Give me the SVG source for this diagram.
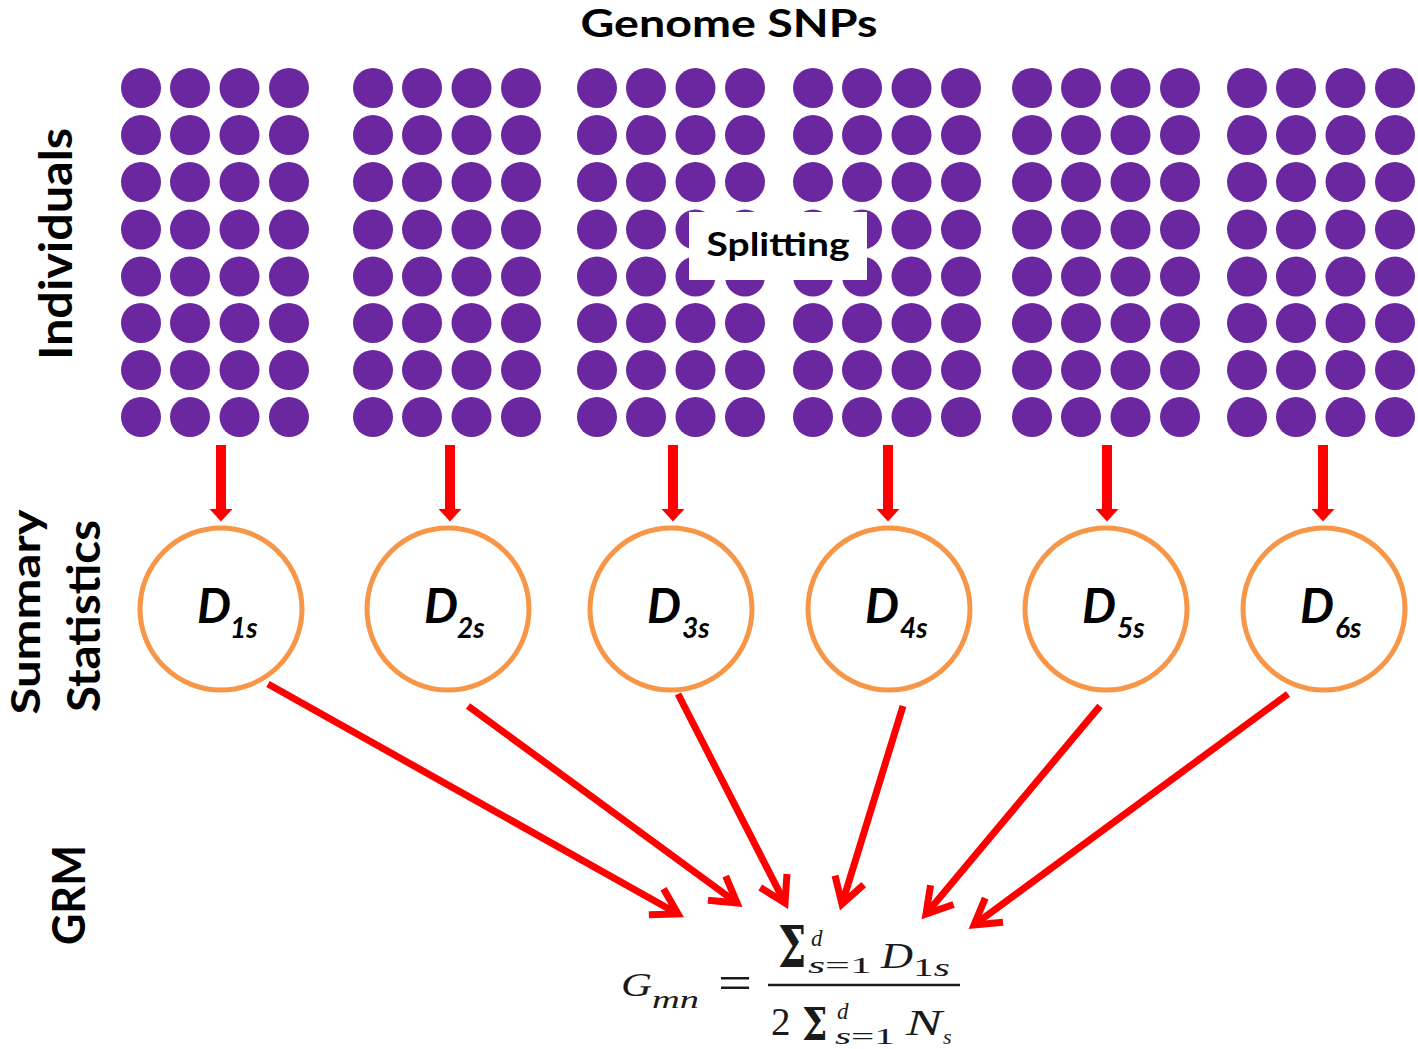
<svg xmlns="http://www.w3.org/2000/svg" xmlns:xlink="http://www.w3.org/1999/xlink" width="1418" height="1049" viewBox="0 0 1418 1049">
<style>
.lbl{font-family:Lato,"Liberation Sans",sans-serif;font-weight:bold;fill:#000}
.dot{fill:#6a27a0}
.node{fill:#fff;stroke:#f79646;stroke-width:5}
.dl{font-family:Lato,"Liberation Sans",sans-serif;font-weight:bold;font-style:italic;fill:#000}
.vline{stroke:#ff0000;stroke-width:10;fill:none}
.dline{stroke:#ff0000;stroke-width:7;fill:none}
.m{font-family:"Liberation Serif","Times New Roman",serif;fill:#1a1a1a}
.mi{font-family:"Liberation Serif","Times New Roman",serif;font-style:italic;fill:#1a1a1a}
.sig{font-family:"DejaVu Serif","Liberation Serif",serif;font-weight:bold;fill:#1a1a1a}
</style>
<defs>
<g id="block">
<circle class="dot" cx="0" cy="0" r="20"/><circle class="dot" cx="49" cy="0" r="20"/><circle class="dot" cx="98.5" cy="0" r="20"/><circle class="dot" cx="148" cy="0" r="20"/>
<circle class="dot" cx="0" cy="47" r="20"/><circle class="dot" cx="49" cy="47" r="20"/><circle class="dot" cx="98.5" cy="47" r="20"/><circle class="dot" cx="148" cy="47" r="20"/>
<circle class="dot" cx="0" cy="94" r="20"/><circle class="dot" cx="49" cy="94" r="20"/><circle class="dot" cx="98.5" cy="94" r="20"/><circle class="dot" cx="148" cy="94" r="20"/>
<circle class="dot" cx="0" cy="141.5" r="20"/><circle class="dot" cx="49" cy="141.5" r="20"/><circle class="dot" cx="98.5" cy="141.5" r="20"/><circle class="dot" cx="148" cy="141.5" r="20"/>
<circle class="dot" cx="0" cy="188.5" r="20"/><circle class="dot" cx="49" cy="188.5" r="20"/><circle class="dot" cx="98.5" cy="188.5" r="20"/><circle class="dot" cx="148" cy="188.5" r="20"/>
<circle class="dot" cx="0" cy="235" r="20"/><circle class="dot" cx="49" cy="235" r="20"/><circle class="dot" cx="98.5" cy="235" r="20"/><circle class="dot" cx="148" cy="235" r="20"/>
<circle class="dot" cx="0" cy="282" r="20"/><circle class="dot" cx="49" cy="282" r="20"/><circle class="dot" cx="98.5" cy="282" r="20"/><circle class="dot" cx="148" cy="282" r="20"/>
<circle class="dot" cx="0" cy="329" r="20"/><circle class="dot" cx="49" cy="329" r="20"/><circle class="dot" cx="98.5" cy="329" r="20"/><circle class="dot" cx="148" cy="329" r="20"/>
</g>
<marker id="solid" markerUnits="userSpaceOnUse" markerWidth="30" markerHeight="30" viewBox="0 -15 30 30" refX="0" refY="0" orient="auto" overflow="visible">
<path d="M0,-11.5 L12.5,0 L0,11.5 Z" fill="#ff0000"/>
</marker>
<marker id="open" markerUnits="userSpaceOnUse" markerWidth="40" markerHeight="40" viewBox="-30 -20 40 40" refX="0" refY="0" orient="auto" overflow="visible">
<path d="M-25,-15 L0,0 L-25,15" fill="none" stroke="#ff0000" stroke-width="7" stroke-linejoin="miter" stroke-linecap="butt"/>
</marker>
</defs>
<rect width="1418" height="1049" fill="#fff"/>

<text class="lbl" x="729" y="37" font-size="38" text-anchor="middle" textLength="297" lengthAdjust="spacingAndGlyphs">Genome SNPs</text>
<text class="lbl" font-size="46" text-anchor="middle" transform="translate(72,244) rotate(-90)" textLength="232" lengthAdjust="spacingAndGlyphs">Individuals</text>
<text class="lbl" font-size="41" text-anchor="middle" transform="translate(40,612) rotate(-90)" textLength="205" lengthAdjust="spacingAndGlyphs">Summary</text>
<text class="lbl" font-size="46" text-anchor="middle" transform="translate(100,616) rotate(-90)" textLength="192" lengthAdjust="spacingAndGlyphs">Statistics</text>
<text class="lbl" font-size="46" text-anchor="middle" transform="translate(85,895) rotate(-90)" textLength="100" lengthAdjust="spacingAndGlyphs">GRM</text>

<g id="snp-block-1"><use xlink:href="#block" href="#block" transform="translate(141,88)"/></g>
<g id="snp-block-2"><use xlink:href="#block" href="#block" transform="translate(373,88)"/></g>
<g id="snp-block-3"><use xlink:href="#block" href="#block" transform="translate(597,88)"/></g>
<g id="snp-block-4"><use xlink:href="#block" href="#block" transform="translate(813,88)"/></g>
<g id="snp-block-5"><use xlink:href="#block" href="#block" transform="translate(1032,88)"/></g>
<g id="snp-block-6"><use xlink:href="#block" href="#block" transform="translate(1247,88)"/></g>

<g id="splitting">
<rect x="689" y="212" width="178" height="68" fill="#fff"/>
<text class="lbl" x="778" y="256" font-size="32" text-anchor="middle" textLength="143" lengthAdjust="spacingAndGlyphs">Splitting</text>
</g>

<g id="connectors">
<line class="vline" x1="221" y1="445" x2="221" y2="509" marker-end="url(#solid)"/>
<line class="vline" x1="450" y1="445" x2="450" y2="509" marker-end="url(#solid)"/>
<line class="vline" x1="673" y1="445" x2="673" y2="509" marker-end="url(#solid)"/>
<line class="vline" x1="888" y1="445" x2="888" y2="509" marker-end="url(#solid)"/>
<line class="vline" x1="1107" y1="445" x2="1107" y2="509" marker-end="url(#solid)"/>
<line class="vline" x1="1323" y1="445" x2="1323" y2="509" marker-end="url(#solid)"/>
<line class="dline" x1="268" y1="684" x2="678" y2="914" marker-end="url(#open)"/>
<line class="dline" x1="468" y1="706" x2="737" y2="903" marker-end="url(#open)"/>
<line class="dline" x1="678" y1="694" x2="785" y2="903" marker-end="url(#open)"/>
<line class="dline" x1="903" y1="706" x2="842" y2="904" marker-end="url(#open)"/>
<line class="dline" x1="1100" y1="706" x2="926" y2="914" marker-end="url(#open)"/>
<line class="dline" x1="1288" y1="694" x2="974" y2="925" marker-end="url(#open)"/>
</g>

<g id="d1"><circle class="node" cx="221" cy="609" r="81"/><text class="dl" font-size="48"><tspan x="197" y="623">D</tspan><tspan x="230" y="638" font-size="28">1s</tspan></text></g>
<g id="d2"><circle class="node" cx="448" cy="609" r="81"/><text class="dl" font-size="48"><tspan x="424" y="623">D</tspan><tspan x="457" y="638" font-size="28">2s</tspan></text></g>
<g id="d3"><circle class="node" cx="671" cy="609" r="81"/><text class="dl" font-size="48"><tspan x="647" y="623">D</tspan><tspan x="682" y="638" font-size="28">3s</tspan></text></g>
<g id="d4"><circle class="node" cx="889" cy="609" r="81"/><text class="dl" font-size="48"><tspan x="865" y="623">D</tspan><tspan x="900" y="638" font-size="28">4s</tspan></text></g>
<g id="d5"><circle class="node" cx="1106" cy="609" r="81"/><text class="dl" font-size="48"><tspan x="1082" y="623">D</tspan><tspan x="1117" y="638" font-size="28">5s</tspan></text></g>
<g id="d6"><circle class="node" cx="1324" cy="609" r="81"/><text class="dl" font-size="48"><tspan x="1300" y="623">D</tspan><tspan x="1335" y="638" font-size="28">6s</tspan></text></g>

<g id="grm-formula">
<text class="mi" x="621" y="996" font-size="33" textLength="31" lengthAdjust="spacingAndGlyphs">G</text>
<text class="mi" x="652" y="1008" font-size="26" textLength="47" lengthAdjust="spacingAndGlyphs">mn</text>
<text class="m" x="718" y="999" font-size="48" textLength="34" lengthAdjust="spacingAndGlyphs">=</text>
<line x1="768" y1="985" x2="960" y2="985" stroke="#1a1a1a" stroke-width="2.5"/>
<text class="sig" font-size="57" transform="translate(778,967) scale(0.7,1)">Σ</text>
<text class="mi" x="811" y="946" font-size="23">d</text>
<text x="808" y="973" font-size="24" textLength="64" lengthAdjust="spacingAndGlyphs"><tspan class="mi">s</tspan><tspan class="m">=1</tspan></text>
<text class="mi" x="881" y="968" font-size="35" textLength="32" lengthAdjust="spacingAndGlyphs">D</text>
<text class="m" x="913" y="976" font-size="26" textLength="37" lengthAdjust="spacingAndGlyphs">1<tspan class="mi">s</tspan></text>
<text class="m" x="771" y="1035" font-size="39">2</text>
<text class="sig" font-size="45" transform="translate(802,1040) scale(0.8,1)">Σ</text>
<text class="mi" x="837" y="1019" font-size="23">d</text>
<text x="835" y="1044" font-size="24" textLength="60" lengthAdjust="spacingAndGlyphs"><tspan class="mi">s</tspan><tspan class="m">=1</tspan></text>
<text class="mi" x="906" y="1035" font-size="35" textLength="36" lengthAdjust="spacingAndGlyphs">N</text>
<text class="mi" x="943" y="1044" font-size="22">s</text>
</g>
</svg>
